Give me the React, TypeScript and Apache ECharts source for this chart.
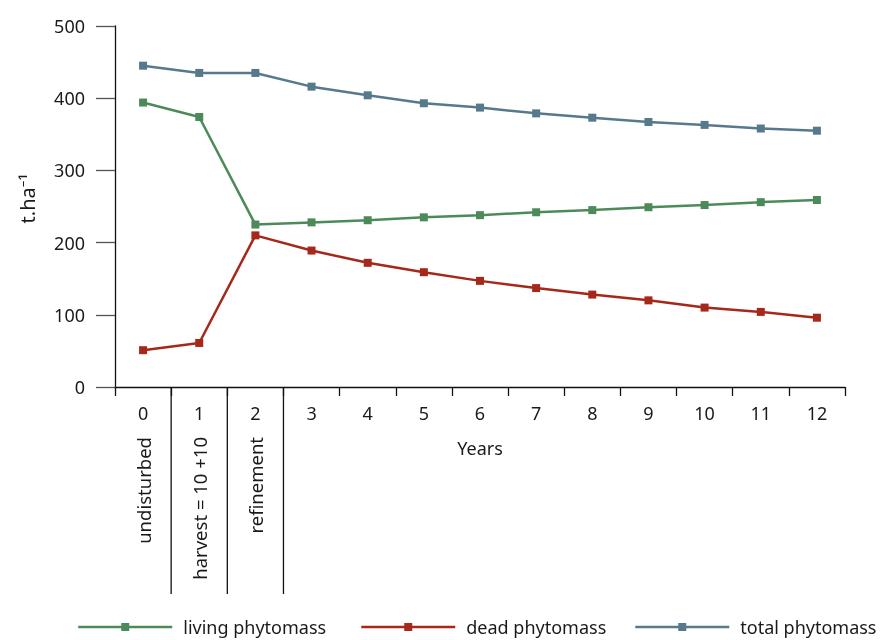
import React, { useEffect, useRef } from "react";
import * as echarts from "echarts";

const years = ["0", "1", "2", "3", "4", "5", "6", "7", "8", "9", "10", "11", "12"];
const living = [394, 374, 225, 228, 231, 235, 238, 242, 245, 249, 252, 256, 259];
const dead = [51, 61, 210, 189, 172, 159, 147, 137, 128, 120, 110, 104, 96];
const total = [445, 435, 435, 416, 404, 393, 387, 379, 373, 367, 363, 358, 355];
const treatments = ["undisturbed", "harvest = 10 +10", "refinement"];
const seriesNames = ["living phytomass", "dead phytomass", "total phytomass"];
const seriesColors = ["#4d8a5a", "#a5281b", "#57798c"];
const legendLefts = [77, 360, 634];

const FONT = "Noto Sans";
const TXT = "#1a1a1a";

export default function App() {
  const ref = useRef<HTMLDivElement>(null);
  useEffect(() => {
    if (!ref.current) return;
    const chart = echarts.init(ref.current, null, { renderer: "svg" });
    const values = [living, dead, total];
    chart.setOption({
      animation: false,
      textStyle: { fontFamily: FONT, color: TXT },
      grid: { left: 115, right: 40, top: 26, bottom: 253, containLabel: false },
      legend: seriesNames.map((n, i) => ({
        data: [n],
        left: legendLefts[i],
        top: 618,
        padding: 0,
        itemWidth: 94,
        itemHeight: 10,
        lineStyle: { width: 2.5, color: seriesColors[i] },
        itemStyle: { color: seriesColors[i] },
        textStyle: { fontFamily: FONT, fontSize: 18, color: TXT, padding: [0, 0, 0, 6] },
      })),
      xAxis: {
        type: "category",
        data: years,
        boundaryGap: true,
        name: "Years",
        nameLocation: "middle",
        nameGap: 52,
        nameTextStyle: { fontFamily: FONT, fontSize: 18, color: TXT },
        axisLine: { show: true, lineStyle: { color: "#111", width: 1.3 } },
        axisTick: { show: true, length: 9, lineStyle: { color: "#111", width: 1.3 } },
        axisLabel: { margin: 17, fontFamily: FONT, fontSize: 18, color: TXT },
        splitLine: { show: false },
      },
      yAxis: {
        type: "value",
        min: 0,
        max: 500,
        interval: 100,
        name: "t.ha⁻¹",
        nameLocation: "middle",
        nameRotate: 90,
        nameGap: 78,
        nameTextStyle: { fontFamily: FONT, fontSize: 20, color: TXT, padding: [0, 0, 0, 16] },
        axisLine: { show: true, lineStyle: { color: "#111", width: 1.3 } },
        axisTick: { show: true, length: 19, lineStyle: { color: "#555", width: 1.3 } },
        axisLabel: { margin: 30, fontFamily: FONT, fontSize: 18, color: TXT },
        splitLine: { show: false },
      },
      series: seriesNames.map((n, i) => ({
        name: n,
        type: "line",
        data: values[i],
        symbol: "rect",
        symbolSize: 8,
        lineStyle: { width: 2.5, color: seriesColors[i] },
        itemStyle: { color: seriesColors[i] },
      })),
    });

    const xs = years.map((_, i) => chart.convertToPixel({ xAxisIndex: 0 }, i) as number);
    const y0 = chart.convertToPixel({ yAxisIndex: 0 }, 0) as number;
    const elements: any[] = [];
    for (let i = 1; i <= treatments.length; i++) {
      const bx = (xs[i - 1] + xs[i]) / 2;
      elements.push({
        type: "line",
        shape: { x1: bx, y1: y0, x2: bx, y2: y0 + 207 },
        style: { stroke: "#111", lineWidth: 1.3 },
        silent: true,
      });
    }
    treatments.forEach((t, i) => {
      elements.push({
        type: "text",
        x: xs[i],
        y: y0 + 50,
        rotation: Math.PI / 2,
        style: {
          text: t,
          fontFamily: FONT,
          fontSize: 18.5,
          fill: TXT,
          align: "right",
          verticalAlign: "middle",
        },
        silent: true,
      });
    });
    chart.setOption({ graphic: { elements } });

    return () => chart.dispose();
  }, []);
  return (
    <div
      ref={ref}
      style={{ position: "fixed", left: 0, top: 0, width: 885, height: 640 }}
    />
  );
}
